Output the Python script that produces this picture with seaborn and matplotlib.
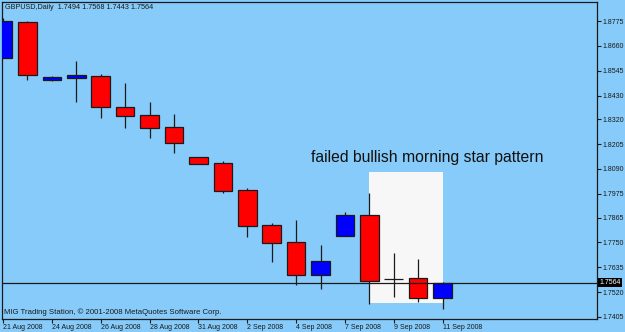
import numpy as np
import pandas as pd
import seaborn as sns
import matplotlib.pyplot as plt
import matplotlib.transforms as mtransforms

# daily GBPUSD candles
dates = ['21 Aug 2008', '22 Aug 2008', '24 Aug 2008', '25 Aug 2008', '26 Aug 2008',
         '27 Aug 2008', '28 Aug 2008', '29 Aug 2008', '31 Aug 2008', '1 Sep 2008',
         '2 Sep 2008', '3 Sep 2008', '4 Sep 2008', '5 Sep 2008', '7 Sep 2008',
         '8 Sep 2008', '9 Sep 2008', '10 Sep 2008', '11 Sep 2008']
opens = [1.8604, 1.8770, 1.8502, 1.8511, 1.8520, 1.8377, 1.8340, 1.8284, 1.8145, 1.8117,
         1.7993, 1.7831, 1.7752, 1.7599, 1.7780, 1.7877, 1.7582, 1.7585, 1.7494]
highs = [1.8789, 1.8775, 1.8520, 1.8590, 1.8530, 1.8488, 1.8400, 1.8344, 1.8145, 1.8127,
         1.8002, 1.7840, 1.7854, 1.7738, 1.7891, 1.7979, 1.7701, 1.7673, 1.7568]
lows = [1.8604, 1.8502, 1.8497, 1.8400, 1.8326, 1.8280, 1.8233, 1.8164, 1.8113, 1.7979,
        1.7775, 1.7659, 1.7553, 1.7534, 1.7780, 1.7465, 1.7497, 1.7474, 1.7443]
closes = [1.8775, 1.8525, 1.8516, 1.8525, 1.8377, 1.8335, 1.8280, 1.8210, 1.8113, 1.7988,
          1.7826, 1.7747, 1.7599, 1.7664, 1.7877, 1.7571, 1.7579, 1.7493, 1.7564]

price_ticks = [1.8775, 1.8660, 1.8545, 1.8430, 1.8320, 1.8205, 1.8090, 1.7975,
               1.7865, 1.7750, 1.7635, 1.7520, 1.7405]
last_price = 1.7564
# highlighted "morning star" zone: from 8 Sep to 11 Sep
box_from, box_to = 15, 18
box_low, box_high = 1.7469, 1.8076

df = pd.DataFrame({'date': dates, 'open': opens, 'high': highs, 'low': lows, 'close': closes})
df['x'] = np.arange(len(df))
df['up'] = df['close'] >= df['open']

bg = '#86cbf9'
ink = '#1a1a1a'
sns.set_theme(style='ticks')
plt.rcParams['font.family'] = ['Liberation Sans', 'DejaVu Sans']

fig = plt.figure(figsize=(6.25, 3.32), dpi=100, facecolor=bg)
ax = fig.add_axes([2 / 625, 13 / 332, 595 / 625, 317 / 332])
ax.set_facecolor(bg)

ax.fill_between([box_from, box_to], box_low, box_high, color='#f7f7f7', lw=0, zorder=1)

ax.vlines(df['x'], df['low'], df['high'], color=ink, lw=0.9, zorder=2)
colors = np.where(df['up'], '#0000ff', '#ff0000')
heights = (df['close'] - df['open']).to_numpy()
heights = np.where(np.abs(heights) < 0.0002, -0.0002, heights)
ax.bar(df['x'], heights, bottom=df['open'], width=0.76, color=colors,
       edgecolor=ink, linewidth=0.9, zorder=3)

ax.axhline(last_price, color=ink, lw=0.9, zorder=4)

ax.set_xlim(-0.04, 24.32)
ax.set_ylim(1.7395, 1.8863)

ax.set_xticks(df['x'][::2])
ax.set_xticklabels(df['date'][::2], ha='left')
ax.set_yticks(price_ticks)
ax.set_yticklabels([f'{p:.4f}' for p in price_ticks])
ax.yaxis.tick_right()
ax.tick_params(axis='both', length=3, width=0.8, color=ink, labelsize=5,
               labelcolor=ink)
ax.tick_params(axis='x', pad=0.5)
ax.tick_params(axis='y', pad=1)
for s in ax.spines.values():
    s.set_color(ink)
    s.set_linewidth(0.9)

trans = mtransforms.blended_transform_factory(ax.transAxes, ax.transData)
ax.text(1.004, last_price, f'{last_price:.4f}', transform=trans, fontsize=5,
        color='white', va='center', ha='left',
        bbox=dict(boxstyle='square,pad=0.2', fc='black', ec='none'))

ax.text(12.62, 1.8145, 'failed bullish morning star pattern', fontsize=11.3,
        color='#111111', va='center', ha='left', zorder=5)

fig.text(5 / 625, 1 - 7.5 / 332, 'GBPUSD,Daily  1.7494 1.7568 1.7443 1.7564',
         fontsize=5.2, color=ink, va='center', ha='left')
ax.text(0.004, 0.022, 'MIG Trading Station, © 2001-2008 MetaQuotes Software Corp.',
        transform=ax.transAxes, fontsize=5.6, color=ink, va='center', ha='left')

fig.savefig('out.png', dpi=100, facecolor=bg)
